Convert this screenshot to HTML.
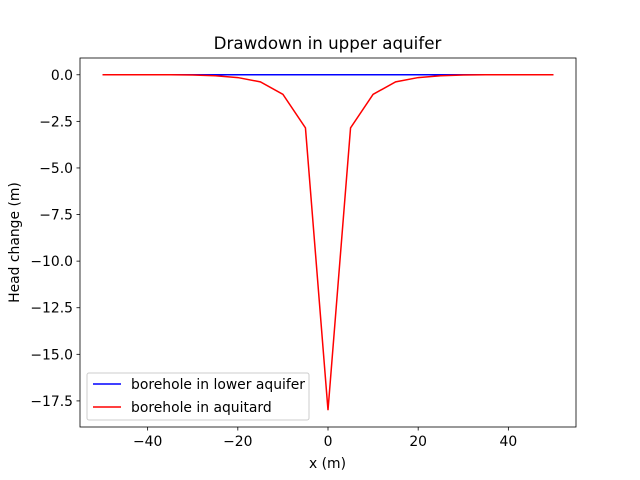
<!DOCTYPE html>
<html><head><meta charset="utf-8"><style>body{margin:0;background:#fff}svg{display:block;font-family:"DejaVu Sans","Liberation Sans",sans-serif}</style></head>
<body>
<svg id="chart" width="640" height="480" viewBox="0 0 640 480">
<rect width="640" height="480" fill="#fff"/>
<text x="327.5" y="49" text-anchor="middle" font-size="16.7">Drawdown in upper aquifer</text>
<g id="plot"></g>
<text x="327.5" y="468" text-anchor="middle" font-size="13.9">x (m)</text>
<text transform="translate(19,242.5) rotate(-90)" text-anchor="middle" font-size="13.9">Head change (m)</text>
</svg>
<script>
const xs=[-50,-45,-40,-35,-30,-25,-20,-15,-10,-5,0,5,10,15,20,25,30,35,40,45,50];
const lowerAquifer=[0,0,0,0,0,0,0,0,0,0,0,0,0,0,0,0,0,0,0,0,0];
const aquitard=[0,0,0,0,-0.01,-0.05,-0.15,-0.38,-1.05,-2.85,-18.0,-2.85,-1.05,-0.38,-0.15,-0.05,-0.01,0,0,0,0];
const xTicks=[-40,-20,0,20,40];
const yTicks=[0,-2.5,-5,-7.5,-10,-12.5,-15,-17.5];
const yTickLabels=["0.0","−2.5","−5.0","−7.5","−10.0","−12.5","−15.0","−17.5"];
const xTickLabels=["−40","−20","0","20","40"];
const L=80,R=576,T=58,B=427;
const xMin=-55,xMax=55;
const yMax=0.9,yMin=-18.9;
const sx=v=>L+(v-xMin)/(xMax-xMin)*(R-L);
const sy=v=>T+(yMax-v)/(yMax-yMin)*(B-T);
const NS="http://www.w3.org/2000/svg";
const g=document.getElementById('plot');
function mk(t,a){const e=document.createElementNS(NS,t);for(const k in a)e.setAttribute(k,a[k]);g.appendChild(e);return e;}
function line(vals,color,name){
 const p=mk('polyline',{points:xs.map((x,i)=>sx(x)+','+sy(vals[i])).join(' '),fill:'none',stroke:color,'stroke-width':1.5});
 
 
}
line(lowerAquifer,'#0000ff','series-lower-aquifer');
line(aquitard,'#ff0000','series-aquitard');
const fr=mk('rect',{x:L,y:T,width:R-L,height:B-T,fill:'none',stroke:'#000','stroke-width':0.8});


xTicks.forEach((v,i)=>{const x=sx(v);
 const t=mk('line',{x1:x,x2:x,y1:B,y2:B+3.5,stroke:'#000','stroke-width':0.8});
 
 
 const l=mk('text',{x:x,y:B+19,'text-anchor':'middle','font-size':13.9});l.textContent=xTickLabels[i];
 
 
});
yTicks.forEach((v,i)=>{const y=sy(v);
 const t=mk('line',{x1:L-3.5,x2:L,y1:y,y2:y,stroke:'#000','stroke-width':0.8});
 
 
 const l=mk('text',{x:L-7,y:y+5,'text-anchor':'end','font-size':13.9});l.textContent=yTickLabels[i];
 
 
});
const lg=mk('rect',{x:87,y:373,width:222,height:47,rx:2,fill:'#fff','fill-opacity':0.8,stroke:'#ccc','stroke-width':1});


[['#0000ff','borehole in lower aquifer',384],['#ff0000','borehole in aquitard',407]].forEach(([c,txt,y])=>{
 const s=mk('line',{x1:93,x2:121,y1:y,y2:y,stroke:c,'stroke-width':1.5});
 
 
 const t=mk('text',{x:131,y:y+5,'font-size':13.9});t.textContent=txt;
 
 
});
</script>
</body></html>
